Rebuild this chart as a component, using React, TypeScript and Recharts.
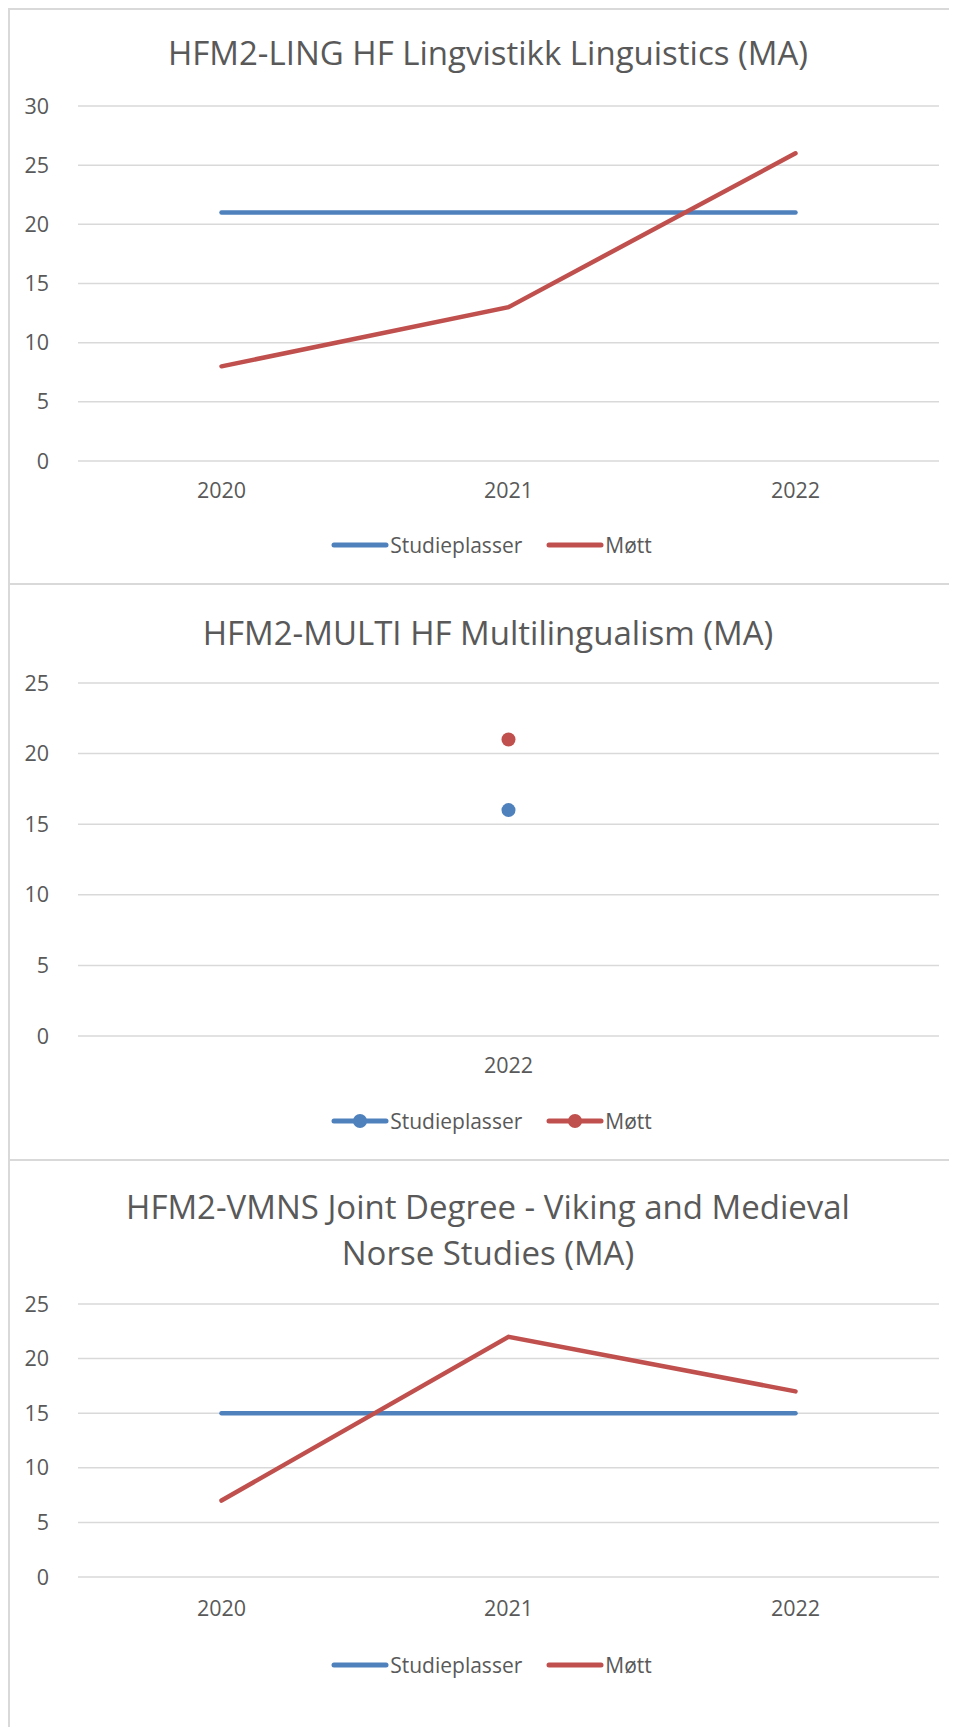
import { LineChart, Line, XAxis, YAxis, CartesianGrid } from 'recharts';

const FONT = '"Open Sans", sans-serif';
const TEXT = '#595959';
const GRID = '#d9d9d9';
const BLUE = '#4f81bd';
const RED = '#c0504d';

// HFM2-LING
const lingYears = ['2020', '2021', '2022'];
const lingPlasser = [21, 21, 21];
const lingMott = [8, 13, 26];

// HFM2-MULTI
const multiYears = ['2022'];
const multiPlasser = [16];
const multiMott = [21];

// HFM2-VMNS
const vmnsYears = ['2020', '2021', '2022'];
const vmnsPlasser = [15, 15, 15];
const vmnsMott = [7, 22, 17];

const ticks30 = [0, 5, 10, 15, 20, 25, 30];
const ticks25 = [0, 5, 10, 15, 20, 25];

const series = [
  { key: 'Studieplasser', color: BLUE },
  { key: 'Møtt', color: RED },
];

const toRows = (years: string[], plasser: number[], mott: number[]) =>
  years.map((year, i) => ({ year, Studieplasser: plasser[i], Møtt: mott[i] }));

const W = 947;
const H = 573;

const LegendRow = ({ dots, center }: { dots?: boolean; center: number }) => (
  <div
    style={{
      position: 'absolute',
      top: center - 15,
      left: 0,
      width: W,
      height: 30,
      display: 'flex',
      justifyContent: 'center',
      alignItems: 'center',
      paddingLeft: 16,
      boxSizing: 'border-box',
      fontFamily: FONT,
      fontSize: 21,
      color: TEXT,
    }}
  >
    {series.map((s, i) => (
      <div key={s.key} style={{ display: 'flex', alignItems: 'center', marginRight: i === 0 ? 24 : 0 }}>
        <svg width={58} height={20} style={{ marginRight: 1 }}>
          <line x1={3} y1={10} x2={55} y2={10} stroke={s.color} strokeWidth={5} strokeLinecap="round" />
          {dots && <circle cx={29} cy={10} r={7} fill={s.color} />}
        </svg>
        <span>{s.key}</span>
      </div>
    ))}
  </div>
);

type BoxProps = {
  title: string[];
  titleTop: number;
  rows: any[];
  ticks: number[];
  plotTop: number;
  plotBottom: number;
  labelGap: number;
  legendY: number;
  dots?: boolean;
  height: number;
};

const ChartBox = ({ title, titleTop, rows, ticks, plotTop, plotBottom, labelGap, legendY, dots, height }: BoxProps) => (
  <div style={{ position: 'relative', height, borderTop: `2px solid ${GRID}`, boxSizing: 'border-box' }}>
    <div
      style={{
        position: 'absolute',
        top: titleTop - 23,
        left: 0,
        width: 956,
        textAlign: 'center',
        fontFamily: FONT,
        fontSize: 33,
        lineHeight: '46px',
        color: TEXT,
      }}
    >
      {title.map((t, i) => (
        <div key={i}>{t}</div>
      ))}
    </div>
    <div style={{ position: 'absolute', top: 0, left: 0 }}>
      <LineChart
        width={W}
        height={H}
        data={rows}
        margin={{ top: plotTop, right: 18, bottom: H - plotBottom - 30, left: 8 }}
      >
        <CartesianGrid vertical={false} stroke={GRID} strokeWidth={1.5} />
        <XAxis
          dataKey="year"
          height={30}
          axisLine={false}
          tickLine={false}
          tickSize={0}
          tickMargin={labelGap}
          padding={{ left: 143.5, right: 143.5 }}
          tick={{ fill: TEXT, fontSize: 21.5, fontFamily: FONT }}
        />
        <YAxis
          width={60}
          domain={[0, ticks[ticks.length - 1]]}
          ticks={ticks}
          axisLine={false}
          tickLine={false}
          tickSize={0}
          tickMargin={29}
          tick={{ fill: TEXT, fontSize: 21.5, fontFamily: FONT }}
        />
        {series.map((s) => (
          <Line
            key={s.key}
            dataKey={s.key}
            stroke={s.color}
            strokeWidth={4.5}
            strokeLinecap="round"
            dot={dots ? { r: 7, fill: s.color, stroke: 'none' } : false}
            activeDot={false}
            isAnimationActive={false}
          />
        ))}
      </LineChart>
    </div>
    <LegendRow dots={dots} center={legendY} />
  </div>
);

export default function App() {
  return (
    <div style={{ width: 949, borderLeft: `2px solid ${GRID}`, boxSizing: 'border-box', overflow: 'hidden' }}>
      <style>{'html,body{overflow:hidden}'}</style>
      <ChartBox
        title={['HFM2-LING HF Lingvistikk Linguistics (MA)']}
        titleTop={43}
        rows={toRows(lingYears, lingPlasser, lingMott)}
        ticks={ticks30}
        plotTop={96}
        plotBottom={451}
        labelGap={22}
        legendY={535}
        height={575}
      />
      <ChartBox
        title={['HFM2-MULTI HF Multilingualism (MA)']}
        titleTop={48}
        rows={toRows(multiYears, multiPlasser, multiMott)}
        ticks={ticks25}
        plotTop={98}
        plotBottom={451}
        labelGap={22}
        legendY={536}
        dots
        height={576}
      />
      <ChartBox
        title={['HFM2-VMNS Joint Degree - Viking and Medieval', 'Norse Studies (MA)']}
        titleTop={46}
        rows={toRows(vmnsYears, vmnsPlasser, vmnsMott)}
        ticks={ticks25}
        plotTop={143}
        plotBottom={416}
        labelGap={24}
        legendY={504}
        height={568}
      />
    </div>
  );
}
